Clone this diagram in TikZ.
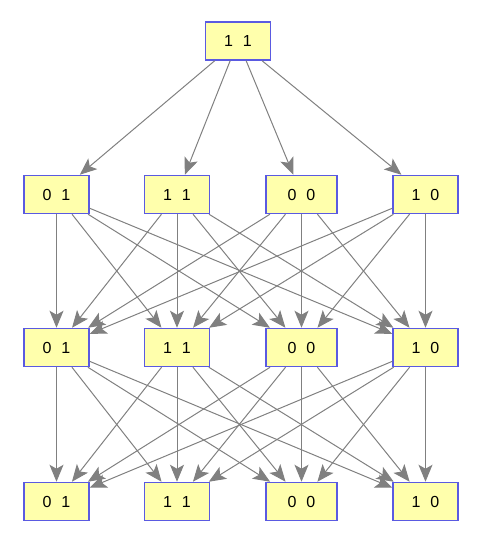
\documentclass[tikz,border=0pt]{standalone}
\usepackage{fontspec}
\setmainfont{Liberation Sans}
\usetikzlibrary{arrows.meta}
\definecolor{nodefill}{RGB}{255,255,172}
\definecolor{nodedraw}{RGB}{90,90,225}
\definecolor{edgegray}{RGB}{128,128,128}
\tikzset{
  vbox/.style={draw=nodedraw, line width=1.5pt, fill=nodefill, minimum width=65pt, minimum height=38pt, inner sep=0pt, font=\fontsize{16}{18}\selectfont},
  wbox/.style={vbox, minimum width=71pt},
  bigtip/.tip={Stealth[length=17pt,width=14pt,inset=4pt]},
  conn/.style={draw=edgegray, line width=1pt, arrows={-bigtip}}
}
\newcommand{\pr}[2]{#1\hspace{0.62em}#2}
\begin{document}
\begin{tikzpicture}[x=1pt,y=1pt]
\useasboundingbox (0,0) rectangle (477,550);
\node[vbox] (t) at (238,509) {\pr11};
% row 2
\node[vbox] (a01) at (56.5,355.5) {\pr01};
\node[vbox] (a11) at (177,355.5) {\pr11};
\node[wbox] (a00) at (301.5,355.5) {\pr00};
\node[vbox] (a10) at (425.5,355.5) {\pr10};
% row 3
\node[vbox] (b01) at (56.5,202.5) {\pr01};
\node[vbox] (b11) at (177,202.5) {\pr11};
\node[wbox] (b00) at (301.5,202.5) {\pr00};
\node[vbox] (b10) at (425.5,202.5) {\pr10};
% row 4
\node[vbox] (c01) at (56.5,48.5) {\pr01};
\node[vbox] (c11) at (177,48.5) {\pr11};
\node[wbox] (c00) at (301.5,48.5) {\pr00};
\node[vbox] (c10) at (425.5,48.5) {\pr10};
\foreach \j in {01,11,00,10} {
  \draw[conn] (t) -- (a\j);
}
\foreach \i in {01,11,00,10} {
  \foreach \j in {01,11,00,10} {
    \draw[conn] (a\i) -- (b\j);
    \draw[conn] (b\i) -- (c\j);
  }
}
\end{tikzpicture}
\end{document}
